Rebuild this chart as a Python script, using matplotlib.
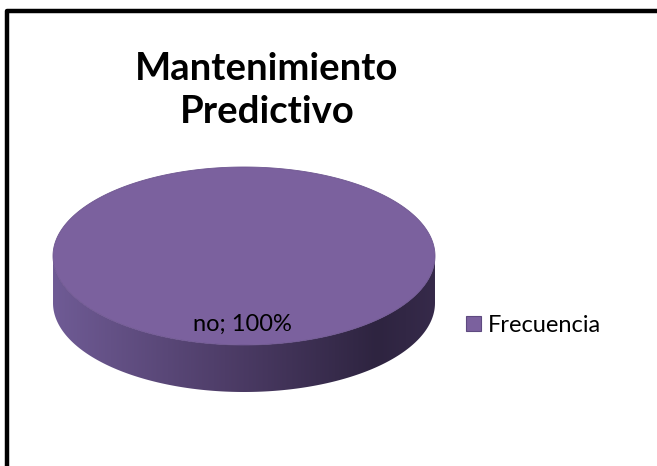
import numpy as np
import matplotlib
matplotlib.use("Agg")
import matplotlib.pyplot as plt
from matplotlib.path import Path
from matplotlib.patches import PathPatch, Polygon, Patch
from matplotlib.colors import LinearSegmentedColormap

# --- data ---
categories = ["no"]
values = [100]
series_name = "Frecuencia"
title_lines = ["Mantenimiento", "Predictivo"]

W, H = 657, 466
fig = plt.figure(figsize=(W / 100, H / 100), dpi=100)
ax = fig.add_axes([0, 0, 1, 1])
ax.set_xlim(0, W)
ax.set_ylim(H, 0)
ax.axis("off")

font = "Lato"

# frame (only top and left visible)
ax.plot([7, 7, W + 5], [H + 5, 11, 11], color="black", lw=3.2, solid_capstyle="butt")

# title
ax.text(267, 80, title_lines[0], ha="center", va="baseline", fontsize=27.5,
        fontweight="bold", family=font)
ax.text(267, 123, title_lines[1], ha="center", va="baseline", fontsize=27.5,
        fontweight="bold", family=font)

# 3D pie geometry
cx, cy, a, b, depth = 244, 256, 191, 89, 47
total = sum(values)
top_color = "#7B619E"

start = 0.0
for cat, v in zip(categories, values):
    frac = v / total
    t = np.linspace(start, start + 2 * np.pi * frac, 400)
    xs = cx + a * np.cos(t)
    ys = cy + b * np.sin(t)

    # side wall (front half only)
    tf = t[np.sin(t) >= 0]
    if len(tf) > 1:
        top_edge = np.column_stack([cx + a * np.cos(tf), cy + b * np.sin(tf)])
        bot_edge = np.column_stack([cx + a * np.cos(tf[::-1]), cy + depth + b * np.sin(tf[::-1])])
        verts = np.vstack([top_edge, bot_edge, top_edge[:1]])
        side = PathPatch(Path(verts, closed=True), facecolor="none", edgecolor="none")
        ax.add_patch(side)
        cmap = LinearSegmentedColormap.from_list(
            "side", [(0, "#6F5B95"), (0.45, "#4E3D68"), (0.85, "#2E2440"), (1, "#362A4A")])
        grad = np.linspace(0, 1, 256).reshape(1, -1)
        im = ax.imshow(grad, cmap=cmap, aspect="auto",
                       extent=[cx - a, cx + a, cy + b + depth, cy - 1], zorder=1)
        im.set_clip_path(side)

    top = Polygon(np.column_stack([xs, ys]), closed=True, facecolor=top_color,
                  edgecolor="#6E5690", lw=0.6, zorder=2)
    ax.add_patch(top)

    # data label
    ax.text(242, 324, f"{cat}; {v / total * 100:.0f}%", ha="center", va="center",
            fontsize=17, family=font, color="black", zorder=3)
    start += 2 * np.pi * frac

# legend
handle = Patch(facecolor=top_color, edgecolor="#5E4A80", lw=0.8)
leg = ax.legend([handle], [series_name], loc="center left",
                bbox_to_anchor=(466 / W, 1 - 325 / H), frameon=False,
                prop={"family": font, "size": 17}, handlelength=0.62,
                handleheight=0.62, handletextpad=0.3, borderpad=0, borderaxespad=0)

fig.savefig("out.png", dpi=100, facecolor="white")
